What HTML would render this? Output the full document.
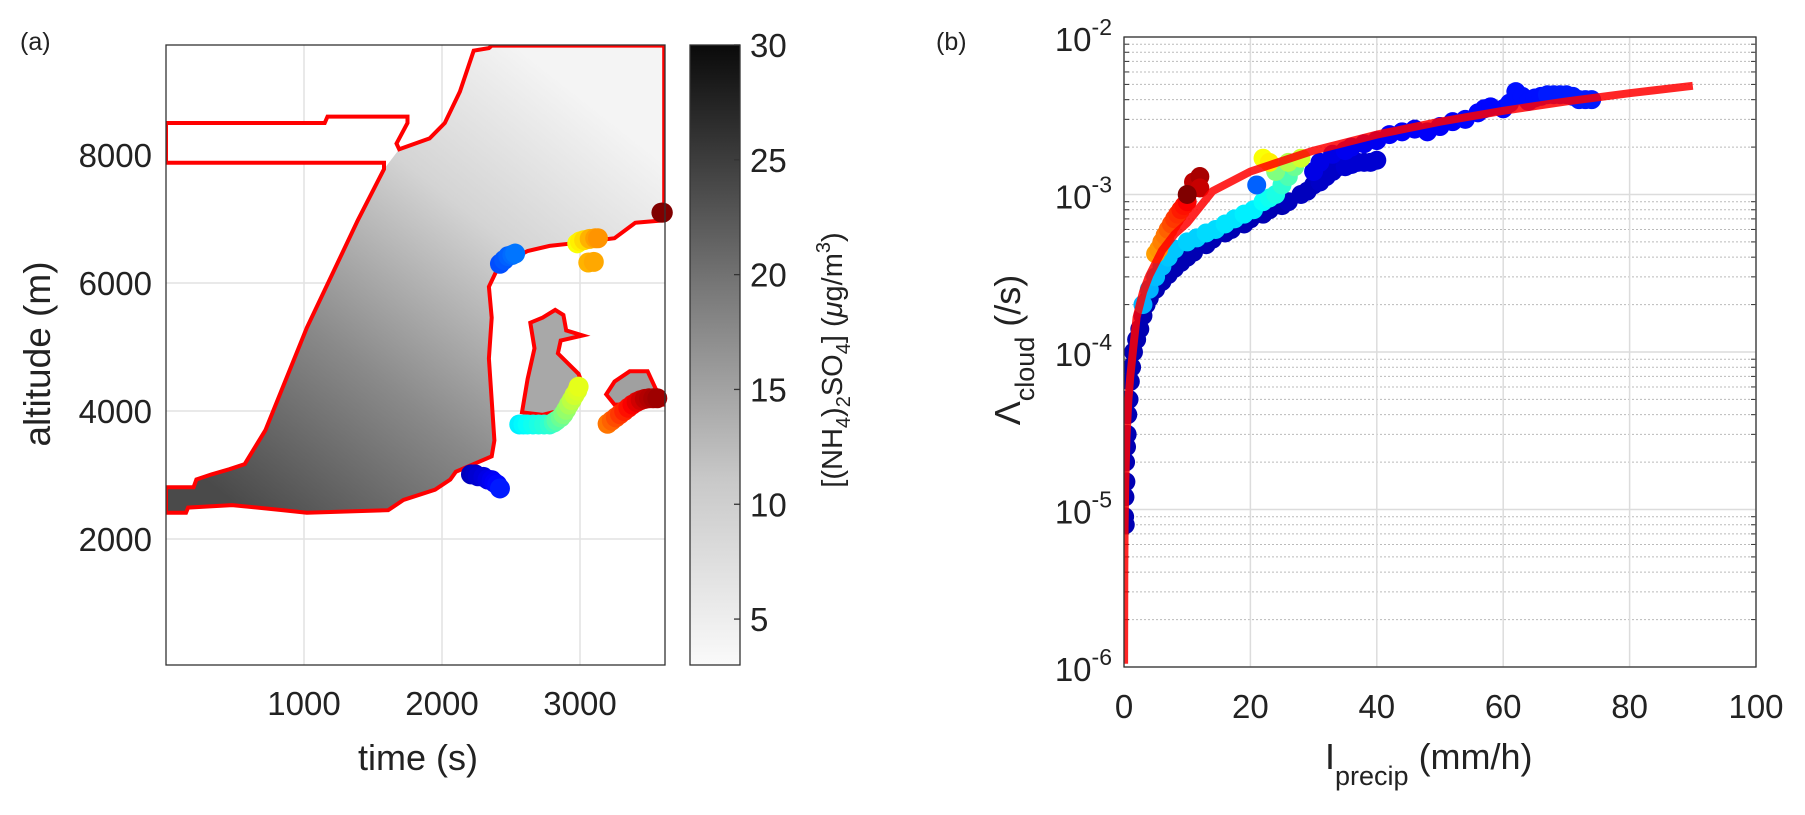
<!DOCTYPE html>
<html><head><meta charset="utf-8">
<style>
body{margin:0;background:#fff;}
svg{display:block;font-family:"Liberation Sans",Arial,sans-serif;}
</style></head>
<body>
<svg id="fig" width="1805" height="815" viewBox="0 0 1805 815" xmlns="http://www.w3.org/2000/svg">
<defs>
<linearGradient id="cbGrad" x1="0" y1="1" x2="0" y2="0">
<stop offset="0" stop-color="#fafafa"/><stop offset="0.3" stop-color="#c8c8c8"/><stop offset="0.6" stop-color="#7a7a7a"/><stop offset="0.85" stop-color="#333"/><stop offset="1" stop-color="#0a0a0a"/>
</linearGradient>
<linearGradient id="fieldGrad" gradientUnits="userSpaceOnUse" x1="230" y1="500" x2="560" y2="80">
<stop offset="0" stop-color="#4a4a4a"/><stop offset="0.35" stop-color="#8a8a8a"/><stop offset="0.7" stop-color="#d4d4d4"/><stop offset="1" stop-color="#f4f4f4"/>
</linearGradient>
<clipPath id="clipA"><rect x="166" y="45" width="499" height="620"/></clipPath>
<clipPath id="clipB"><rect x="1124" y="37" width="632" height="630"/></clipPath>
</defs>
<g id="panelA"></g>
<g id="panelB"></g>
</svg>
<script>
// ---------- Panel (a) data ----------
const xTicksA = [1000, 2000, 3000];
const yTicksA = [2000, 4000, 6000, 8000];
const cbTicks = [5, 10, 15, 20, 25, 30];
const mainContourT = [0,0,200,220,330,460,570,720,1020,1390,1580,1580,0,0,1150,1170,1750,1750,1670,1690,1910,2020,2130,2230,2340,2360,3610,3610,3400,3250,2950,2780,2620,2410,2340,2360,2340,2380,2360,2100,2060,1950,1720,1610,1020,850,480,160,145];
const mainContourAlt = [2410,2810,2810,2930,3010,3090,3170,3700,5300,6980,7780,7880,7880,8500,8500,8600,8600,8500,8180,8090,8260,8500,8990,9630,9670,9710,9710,6980,6940,6700,6620,6580,6500,6260,5940,5460,4820,3540,3290,3050,2930,2770,2610,2450,2410,2450,2530,2490,2410];
const island1T = [2580,2620,2670,2640,2730,2820,2880,2900,3020,2860,2840,2990,3030,2880,2730];
const island1Alt = [3980,4500,4980,5380,5460,5580,5500,5260,5180,5100,4900,4580,4340,4020,3940];
const island2T = [3190,3250,3360,3490,3550,3610,3610,3250];
const island2Alt = [4260,4460,4620,4620,4340,4220,4100,4100];
const ptsAT = [2210,2240,2260,2300,2330,2360,2380,2400,2420,2420,2450,2480,2510,2530,2560,2590,2620,2660,2700,2740,2780,2810,2830,2860,2880,2900,2920,2940,2960,2980,2990,2980,3000,3030,3070,3110,3130,3060,3100,3200,3230,3260,3290,3320,3350,3380,3410,3440,3470,3500,3530,3560,3590,3600];
const ptsAAlt = [3010,3010,2980,2970,2930,2920,2880,2850,2790,6300,6360,6420,6440,6460,3790,3790,3790,3790,3790,3790,3790,3820,3850,3900,3950,4020,4100,4170,4250,4320,4380,6620,6650,6670,6690,6700,6700,6320,6330,3800,3850,3900,3950,4000,4050,4100,4140,4170,4190,4200,4200,4200,7100,7100];
const ptsAColor = [0.06,0.07,0.08,0.09,0.1,0.11,0.12,0.13,0.15,0.2,0.21,0.22,0.23,0.24,0.36,0.37,0.38,0.39,0.4,0.41,0.42,0.44,0.46,0.48,0.5,0.52,0.54,0.56,0.58,0.59,0.6,0.62,0.64,0.66,0.7,0.72,0.73,0.7,0.71,0.76,0.78,0.8,0.82,0.84,0.86,0.88,0.9,0.92,0.94,0.95,0.96,0.97,1.0,1.0];

// ---------- Panel (b) data ----------
const xTicksB = [0, 20, 40, 60, 80, 100];
const yDecadesB = [-6, -5, -4, -3, -2];
const ptsBI = [0.1,0.15,0.2,0.25,0.3,0.4,0.5,0.6,0.8,1,1.2,1.5,2,2.5,3,3.5,4,5,6,7,8,9,10,11,13,14,16,17,19,20,22,23,25,26,28,29,30,31,32,33,34,35,36,37,38,39,40,
  30,31,33,35,36,38,40,42,44,46,48,50,52,54,56,57,58,60,61,62,63,64,65,66,67,68,69,70,71,72,73,74,
  3,4,5,6,7,8,10,11.5,13,14.5,16,17.5,19,20.5,22,23,24,25,26,27,24,26,28,22,23,21,
  5,5.5,6,6.5,7,7.5,8,8.5,9,9.5,10,11,11,12,12,10];
const ptsBL = [9e-6,1.2e-5,8e-6,2e-5,1.5e-5,2.5e-5,3e-5,4e-5,5e-5,6.5e-5,8e-5,1e-4,1.2e-4,1.4e-4,1.7e-4,2e-4,2.2e-4,2.5e-4,2.8e-4,3.1e-4,3.4e-4,3.7e-4,4e-4,4.3e-4,4.8e-4,5.2e-4,5.7e-4,6e-4,6.5e-4,7e-4,7.5e-4,8e-4,8.5e-4,9e-4,1e-3,1.05e-3,1.15e-3,1.2e-3,1.3e-3,1.4e-3,1.5e-3,1.5e-3,1.55e-3,1.6e-3,1.6e-3,1.6e-3,1.65e-3,
  1.4e-3,1.6e-3,1.8e-3,1.9e-3,2e-3,2.1e-3,2.2e-3,2.4e-3,2.5e-3,2.6e-3,2.5e-3,2.7e-3,2.9e-3,3e-3,3.3e-3,3.5e-3,3.6e-3,3.5e-3,3.8e-3,4.5e-3,4.2e-3,3.9e-3,4.1e-3,4.2e-3,4.3e-3,4.3e-3,4.3e-3,4.3e-3,4.2e-3,4e-3,4e-3,4e-3,
  2e-4,2.5e-4,3e-4,3.5e-4,4e-4,4.5e-4,5e-4,5.3e-4,5.7e-4,6e-4,6.5e-4,7e-4,7.5e-4,8e-4,9e-4,9.5e-4,1e-3,1.15e-3,1.3e-3,1.5e-3,1.4e-3,1.6e-3,1.7e-3,1.7e-3,1.6e-3,1.15e-3,
  4.2e-4,4.5e-4,5e-4,5.5e-4,6e-4,6.5e-4,7e-4,7.5e-4,8e-4,8.5e-4,9e-4,1.1e-3,1.2e-3,1.3e-3,1.1e-3,1e-3];
const ptsBColor = [0.05,0.05,0.05,0.05,0.05,0.05,0.05,0.05,0.05,0.05,0.05,0.05,0.05,0.05,0.05,0.05,0.05,0.05,0.05,0.05,0.05,0.05,0.05,0.05,0.05,0.05,0.05,0.05,0.05,0.05,0.05,0.05,0.05,0.06,0.06,0.06,0.06,0.07,0.07,0.07,0.07,0.08,0.08,0.08,0.08,0.08,0.08,
  0.1,0.1,0.1,0.11,0.11,0.11,0.11,0.12,0.12,0.12,0.12,0.12,0.12,0.13,0.13,0.13,0.13,0.13,0.14,0.14,0.14,0.14,0.14,0.14,0.15,0.15,0.15,0.15,0.15,0.15,0.15,0.15,
  0.3,0.3,0.31,0.31,0.32,0.32,0.33,0.33,0.34,0.34,0.35,0.35,0.36,0.36,0.38,0.39,0.4,0.42,0.45,0.48,0.5,0.55,0.58,0.62,0.64,0.22,
  0.72,0.73,0.75,0.76,0.78,0.8,0.82,0.83,0.85,0.86,0.88,0.92,0.94,0.96,0.93,1.0];
const curveI = [0.012,0.05,0.1,0.2,0.4,0.7,1,1.5,2,3,4,6,8,10,14,20,30,40,50,60,70,80,90];
const curveL = [1.05e-6,4.1e-6,7.8e-6,1.5e-5,2.9e-5,5e-5,7e-5,1.1e-4,1.66e-4,2.4e-4,3.06e-4,4.4e-4,5.6e-4,6.6e-4,1.05e-3,1.4e-3,1.9e-3,2.4e-3,2.9e-3,3.4e-3,3.9e-3,4.4e-3,4.9e-3];

// ---------- helpers ----------
const NS = "http://www.w3.org/2000/svg";
function mk(tag, attrs, parent){const e=document.createElementNS(NS,tag);for(const k in attrs)e.setAttribute(k,attrs[k]);parent.appendChild(e);return e;}
function jet(v){
  const r=Math.max(0,Math.min(1,1.5-Math.abs(4*v-3)));
  const g=Math.max(0,Math.min(1,1.5-Math.abs(4*v-2)));
  const b=Math.max(0,Math.min(1,1.5-Math.abs(4*v-1)));
  return `rgb(${Math.round(r*255)},${Math.round(g*255)},${Math.round(b*255)})`;
}
const AX={l:166,r:665,t:45,b:665};
const xA=t=>166+t*0.138;
const yA=a=>667-a*0.064;
const CB={l:690,r:740};
const yCB=v=>665-(v-3)/27*620;
const BX={l:1124,r:1756,t:37,b:667};
const xB=I=>1124+I*6.32;
const yB=L=>667-(Math.log10(L)+6)*157.5;

// ---------- Panel (a) ----------
const pa=document.getElementById('panelA');
let e;
e=mk('rect',{x:AX.l,y:AX.t,width:AX.r-AX.l,height:AX.b-AX.t,fill:'#fff'},pa);


xTicksA.forEach(t=>{
  e=mk('line',{x1:xA(t),x2:xA(t),y1:AX.t,y2:AX.b,stroke:'#e2e2e2','stroke-width':1.5},pa);
  
  
});
yTicksA.forEach(a=>{
  e=mk('line',{x1:AX.l,x2:AX.r,y1:yA(a),y2:yA(a),stroke:'#e2e2e2','stroke-width':1.5},pa);
  
  
});
const gA=mk('g',{'clip-path':'url(#clipA)'},pa);
function poly(T,A){return T.map((t,i)=>xA(t).toFixed(1)+','+yA(A[i]).toFixed(1)).join(' ');}
e=mk('polygon',{points:poly(mainContourT,mainContourAlt),fill:'url(#fieldGrad)',stroke:'none'},gA);


e=mk('polygon',{points:poly([0,1150,1170,1750,1750,1670,1690,1580,1580,0],[8500,8500,8600,8600,8500,8180,8090,7780,7880,7880]),fill:'#fff'},gA);


e=mk('polygon',{points:poly(island1T,island1Alt),fill:'#a8a8a8'},gA);


e=mk('polygon',{points:poly(island2T,island2Alt),fill:'#a0a0a0'},gA);


[[mainContourT,mainContourAlt,'cloud-contour'],[island1T,island1Alt,'island-contour-1'],[island2T,island2Alt,'island-contour-2']].forEach(c=>{
  e=mk('polygon',{points:poly(c[0],c[1]),fill:'none',stroke:'#ff0000','stroke-width':4,'stroke-linejoin':'miter'},gA);
  
  
});
ptsAT.forEach((t,i)=>{
  e=mk('circle',{cx:xA(t),cy:yA(ptsAAlt[i]),r:10,fill:jet(ptsAColor[i])},pa);
  
  
});
e=mk('rect',{x:AX.l,y:AX.t,width:AX.r-AX.l,height:AX.b-AX.t,fill:'none',stroke:'#333','stroke-width':1.3},pa);


xTicksA.forEach(t=>{
  e=mk('text',{x:xA(t),y:715,'font-size':33,'text-anchor':'middle',fill:'#222'},pa);
  e.textContent=t;
  
  
});
yTicksA.forEach(a=>{
  e=mk('text',{x:152,y:yA(a)+12,'font-size':33,'text-anchor':'end',fill:'#222'},pa);
  e.textContent=a;
  
  
});
e=mk('text',{x:418,y:770,'font-size':36,'text-anchor':'middle',fill:'#222'},pa);
e.textContent='time (s)';


e=mk('text',{x:50,y:354,'font-size':37,'text-anchor':'middle',fill:'#222',transform:'rotate(-90 50 354)'},pa);
e.textContent='altitude (m)';


e=mk('text',{x:20,y:50,'font-size':25,fill:'#222'},pa);
e.textContent='(a)';


e=mk('rect',{x:CB.l,y:45,width:CB.r-CB.l,height:620,fill:'url(#cbGrad)',stroke:'#333','stroke-width':1.3},pa);


cbTicks.forEach(v=>{
  e=mk('line',{x1:CB.r-6,x2:CB.r,y1:yCB(v),y2:yCB(v),stroke:'#333','stroke-width':1.3},pa);
  
  
  e=mk('text',{x:750,y:yCB(v)+12,'font-size':33,fill:'#222'},pa);
  e.textContent=v;
  
  
});
e=mk('text',{x:0,y:0,'font-size':29,fill:'#222','text-anchor':'middle',transform:'translate(842 360) rotate(-90)'},pa);
e.innerHTML='[(NH<tspan dy="8" font-size="20">4</tspan><tspan dy="-8">)</tspan><tspan dy="8" font-size="20">2</tspan><tspan dy="-8">SO</tspan><tspan dy="8" font-size="20">4</tspan><tspan dy="-8">] (</tspan><tspan font-style="italic">μ</tspan>g/m<tspan dy="-12" font-size="20">3</tspan><tspan dy="12">)</tspan>';



// ---------- Panel (b) ----------
const pb=document.getElementById('panelB');
yDecadesB.forEach(d=>{
  if(d<-2){for(let m=2;m<=9;m++){
    const yy=yB(m*Math.pow(10,d));
    e=mk('line',{x1:BX.l,x2:BX.r,y1:yy,y2:yy,stroke:'#bbb','stroke-width':1,'stroke-dasharray':'2 2'},pb);
    
    
    e=mk('line',{x1:BX.l,x2:BX.l+5,y1:yy,y2:yy,stroke:'#333','stroke-width':1},pb);
    
    
    e=mk('line',{x1:BX.r-5,x2:BX.r,y1:yy,y2:yy,stroke:'#333','stroke-width':1},pb);
    
    
  }}
  e=mk('line',{x1:BX.l,x2:BX.r,y1:yB(Math.pow(10,d)),y2:yB(Math.pow(10,d)),stroke:'#dcdcdc','stroke-width':1.5},pb);
  
  
});
xTicksB.forEach(I=>{
  e=mk('line',{x1:xB(I),x2:xB(I),y1:BX.t,y2:BX.b,stroke:'#dcdcdc','stroke-width':1.5},pb);
  
  
});
const gB=mk('g',{'clip-path':'url(#clipB)'},pb);
ptsBI.forEach((I,i)=>{
  e=mk('circle',{cx:xB(I),cy:yB(ptsBL[i]),r:9.5,fill:jet(ptsBColor[i])},gB);
  
  
});
e=mk('polyline',{points:curveI.map((I,i)=>xB(I).toFixed(1)+','+yB(curveL[i]).toFixed(1)).join(' '),fill:'none',stroke:'#ff0000','stroke-width':8,'stroke-opacity':0.85,'stroke-linejoin':'round'},gB);


e=mk('rect',{x:BX.l,y:BX.t,width:BX.r-BX.l,height:BX.b-BX.t,fill:'none',stroke:'#333','stroke-width':1.3},pb);


xTicksB.forEach(I=>{
  e=mk('text',{x:xB(I),y:718,'font-size':33,'text-anchor':'middle',fill:'#222'},pb);
  e.textContent=I;
  
  
});
yDecadesB.forEach(d=>{
  e=mk('text',{x:1112,y:yB(Math.pow(10,d))+14,'font-size':33,'text-anchor':'end',fill:'#222'},pb);
  e.innerHTML='10<tspan dy="-16" font-size="23">'+d+'</tspan>';
  
  
});
e=mk('text',{x:1325,y:769,'font-size':36,fill:'#222'},pb);
e.innerHTML='I<tspan dy="16" font-size="27">precip</tspan><tspan dy="-16"> (mm/h)</tspan>';


e=mk('text',{x:0,y:0,'font-size':36,fill:'#222','text-anchor':'middle',transform:'translate(1020 350) rotate(-90)'},pb);
e.innerHTML='Λ<tspan dy="14" font-size="27">cloud</tspan><tspan dy="-14">   (/s)</tspan>';


e=mk('text',{x:936,y:50,'font-size':25,fill:'#222'},pb);
e.textContent='(b)';


</script>
</body></html>
